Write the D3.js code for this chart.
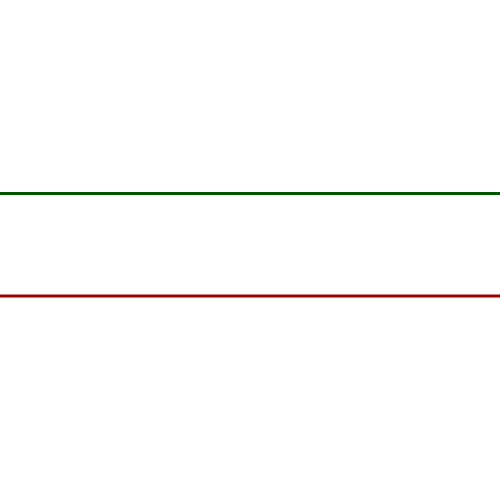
<!DOCTYPE html>
<html>
<head>
<meta charset="utf-8">
<script src="https://cdn.jsdelivr.net/npm/d3@7"></script>
<style>
  body { margin: 0; background: #fff; }
  svg { display: block; }
</style>
</head>
<body>
<svg></svg>
<script>
let categories = ["A", "B", "C", "D", "E", "F"];
let greenValues = [6, 6, 6, 6, 6, 6];
let redValues = [4, 4, 4, 4, 4, 4];

let svgWidth = 500, svgHeight = 500;

let svg = d3.select("svg")
    .attr("width", svgWidth)
    .attr("height", svgHeight);

// Horizontal scale spans the whole width
let xScale = d3.scalePoint()
    .domain(categories)
    .range([0, svgWidth]);

// Vertical scale, axes are not drawn
let yScale = d3.scaleLinear()
    .domain([0, 10])
    .range([501, -11.5]);

let line = d3.line()
    .x((d, i) => xScale(categories[i]))
    .y(d => yScale(d));

let series = [
    { values: greenValues, color: "#005500" },
    { values: redValues, color: "#990000" }
];

svg.selectAll("path.series")
    .data(series)
    .enter()
    .append("path")
    .attr("class", "series")
    .attr("d", d => line(d.values))
    .attr("fill", "none")
    .attr("stroke", d => d.color)
    .attr("stroke-width", 3);
</script>
</body>
</html>
